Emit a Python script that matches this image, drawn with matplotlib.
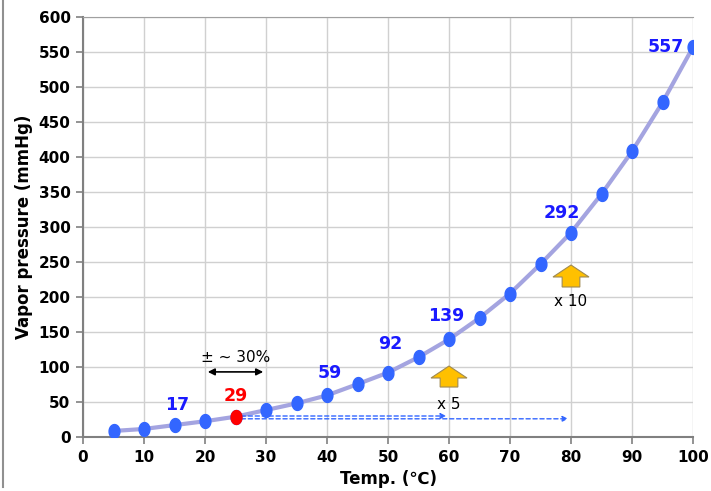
import numpy as np
import matplotlib.pyplot as plt
from matplotlib.lines import Line2D
from matplotlib.patches import Polygon

temps = [5, 10, 15, 20, 25, 30, 35, 40, 45, 50, 55, 60, 65, 70, 75, 80, 85, 90, 95, 100]
pressure = [8.6, 11.5, 17, 22.5, 29, 38.5, 48, 59.5, 75.5, 92, 114, 139.5, 170, 205, 247, 292, 347, 408, 478, 557]

label_temps = [15, 40, 50, 60, 80, 100]
label_vals = [17, 59, 92, 139, 292, 557]
red_temp = 25
red_val = 29

fig = plt.figure(figsize=(7.11, 4.91), dpi=100)
ax = fig.add_axes([83/711, 1 - 437/491, 610/711, 420/491])

ax.set_xlim(0, 100)
ax.set_ylim(0, 600)
ax.set_xticks(range(0, 101, 10))
ax.set_yticks(range(0, 601, 50))
ax.grid(True, color="#d0d0d0", linewidth=1)
ax.set_axisbelow(True)
for s in ["left", "bottom"]:
    ax.spines[s].set_color("#808080")
    ax.spines[s].set_linewidth(1.5)
ax.spines["top"].set_color("#a0a0a0")
ax.spines["right"].set_visible(False)
ax.tick_params(length=5, width=1.2, color="#808080", labelsize=11, pad=4)
for tl in ax.get_xticklabels() + ax.get_yticklabels():
    tl.set_fontweight("bold")

# tall ellipse marker
t = np.linspace(0, 2 * np.pi, 40)
ell = list(zip(0.78 * np.cos(t), np.sin(t)))

ax.plot(temps, pressure, color="#a4a4e0", linewidth=3, zorder=2)
ax.plot(temps, pressure, linestyle="none", marker=ell, color="#3366ff", markersize=10, zorder=3)
ax.plot([red_temp], [red_val], linestyle="none", marker=ell, color="#ff0000", markersize=10, zorder=4)

# value labels
offsets = {15: (0.5, 29), 40: (0.5, 32), 50: (0.3, 41), 60: (-0.5, 34), 80: (-1.5, 28), 100: (-4.5, 0)}
for tt, v in zip(label_temps, label_vals):
    dx, dy = offsets[tt]
    ax.text(tt + dx, v + dy, str(v), color="#1a1aff", fontsize=12.5, fontweight="bold",
            ha="center", va="center", zorder=5)
ax.text(red_temp, red_val + 30, str(red_val), color="#ff0000", fontsize=12.5, fontweight="bold",
        ha="center", va="center", zorder=5)

# +-30% range arrow
ax.annotate("", xy=(20, 93), xytext=(30, 93),
            arrowprops=dict(arrowstyle="<|-|>", color="black", lw=1.2, mutation_scale=10))
ax.text(25, 113, "± ~ 30%", fontsize=11, ha="center", va="center")

# dashed arrows from the red point
ax.annotate("", xy=(60, 30), xytext=(25.5, 30),
            arrowprops=dict(arrowstyle="-|>", color="#3366ff", lw=1, ls=(0, (3, 2)), mutation_scale=8))
ax.annotate("", xy=(80, 26), xytext=(25.5, 26),
            arrowprops=dict(arrowstyle="-|>", color="#3366ff", lw=1, ls=(0, (3, 2)), mutation_scale=8))

# yellow block arrows
for x0, ybot, yneck, ytop, txt, ty in [(60, 71.4, 84.3, 101.4, "x 5", 47),
                                         (80, 214.3, 228.6, 245.7, "x 10", 194)]:
    hw, tw = 2.95, 1.45
    pts = [(x0 - tw, ybot), (x0 + tw, ybot), (x0 + tw, yneck), (x0 + hw, yneck),
           (x0, ytop), (x0 - hw, yneck), (x0 - tw, yneck)]
    ax.add_patch(Polygon(pts, closed=True, fc="#ffc000", ec="#a08a50", lw=0.8, zorder=4))
    ax.text(x0, ty, txt, fontsize=11, ha="center", va="center")

ax.set_xlabel("Temp. (℃)", fontsize=12, fontweight="bold", labelpad=4)
ax.set_ylabel("Vapor pressure (mmHg)", fontsize=12, fontweight="bold", labelpad=4)

fig.add_artist(Line2D([3/711, 3/711], [1 - 487/491, 1], color="#909090", lw=1.5))

fig.savefig("out.png", dpi=100)
